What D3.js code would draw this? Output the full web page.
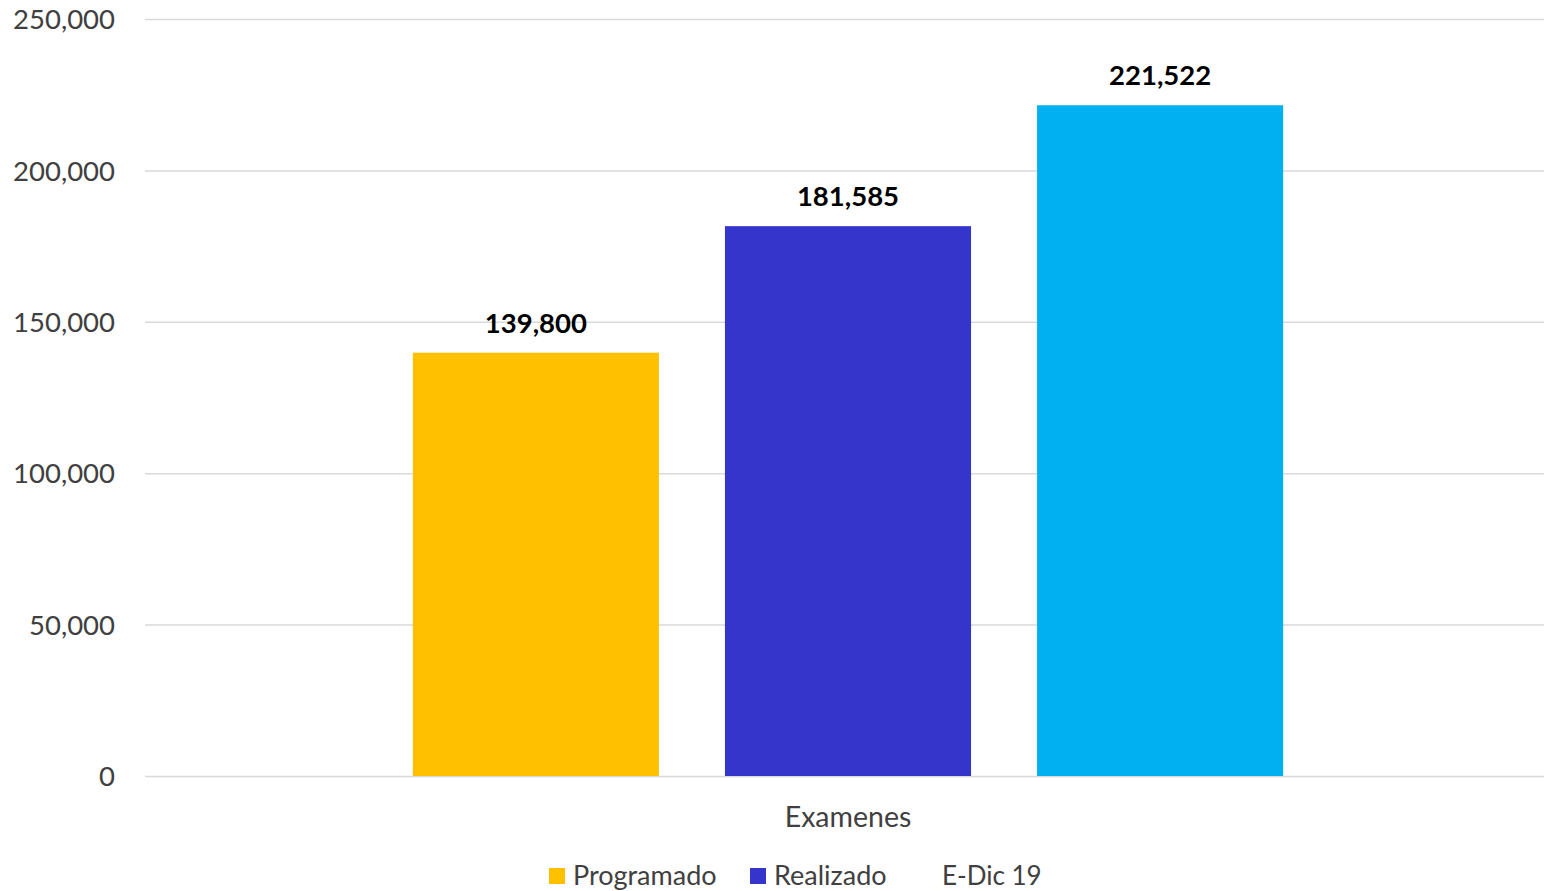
<!DOCTYPE html>
<html>
<head>
<meta charset="utf-8">
<script src="https://cdn.jsdelivr.net/npm/d3@7"></script>
<style>
  html, body { margin: 0; padding: 0; background: #fff; }
  svg { display: block; font-family: Lato, "Open Sans", sans-serif; }
</style>
</head>
<body>
<svg id="chart" width="1544" height="891"></svg>
<script>
const categories = ["Examenes"];
const seriesNames = ["Programado", "Realizado", "E-Dic 19"];
const seriesValues = [139800, 181585, 221522];
const seriesColors = ["#FFC000", "#3535CC", "#00B0F0"];
const legendShowSwatch = [true, true, false];
const yTicks = [0, 50000, 100000, 150000, 200000, 250000];

(function () {
const svg = d3.select("#chart");
const W = 1544, H = 891;
const mLeft = 145, mRight = 1551, mTop = 19, mBottom = 776;

const y = d3.scaleLinear().domain([0, 250000]).range([mBottom, mTop]);
const x0 = d3.scaleBand().domain(categories).range([mLeft, mRight]).padding(0);
const groupFrac = 0.619;
const x1 = d3.scaleBand().domain(seriesNames)
  .range([0, x0.bandwidth() * groupFrac]).paddingInner(0.2115).paddingOuter(0);
const groupOffset = x0.bandwidth() * (1 - groupFrac) / 2;

const fmt = d3.format(",");

// gridlines + y labels
const yAxis = d3.axisLeft(y).tickValues(yTicks).tickFormat(fmt)
  .tickSize(-(W - mLeft)).tickPadding(30);
const gy = svg.append("g").attr("transform", `translate(${mLeft},0)`).call(yAxis);
gy.select(".domain").remove();
gy.selectAll(".tick line").attr("stroke", "#d9d9d9").attr("stroke-width", 1.5);
gy.selectAll(".tick text").attr("fill", "#404040").attr("font-size", 27.5)
  .attr("font-family", "Lato, sans-serif").attr("dy", "0.35em");

// bars
const data = seriesNames.map((s, i) => ({ name: s, value: seriesValues[i], color: seriesColors[i] }));
const g = svg.append("g");
categories.forEach(cat => {
  const gx = x0(cat) + groupOffset;
  g.selectAll("rect.bar").data(data).enter().append("rect")
    .attr("class", "bar")
    .attr("x", d => gx + x1(d.name))
    .attr("y", d => y(d.value))
    .attr("width", x1.bandwidth())
    .attr("height", d => y(0) - y(d.value))
    .attr("fill", d => d.color);
  g.selectAll("text.lbl").data(data).enter().append("text")
    .attr("class", "lbl")
    .attr("x", d => gx + x1(d.name) + x1.bandwidth() / 2)
    .attr("y", d => y(d.value) - 20)
    .attr("text-anchor", "middle")
    .attr("font-size", 27.5).attr("font-weight", "bold").attr("fill", "#000")
    .text(d => fmt(d.value));
});

// category label
svg.append("g").selectAll("text").data(categories).enter().append("text")
  .attr("x", d => x0(d) + x0.bandwidth() / 2)
  .attr("y", 817).attr("dy", "0.35em")
  .attr("text-anchor", "middle").attr("font-size", 28.5).attr("fill", "#404040")
  .text(d => d);

// legend
const legendX = [549, 750, 925];
const legendFont = [27, 27, 26];
const leg = svg.append("g");
seriesNames.forEach((s, i) => {
  if (legendShowSwatch[i]) {
    leg.append("rect").attr("x", legendX[i]).attr("y", 868).attr("width", 16).attr("height", 16)
      .attr("fill", seriesColors[i]);
  }
  leg.append("text").attr("x", legendX[i] + (i === 2 ? 17 : 24)).attr("y", 876).attr("dy", "0.35em")
    .attr("font-size", legendFont[i]).attr("fill", "#404040").text(s);
});
})();
</script>
</body>
</html>
